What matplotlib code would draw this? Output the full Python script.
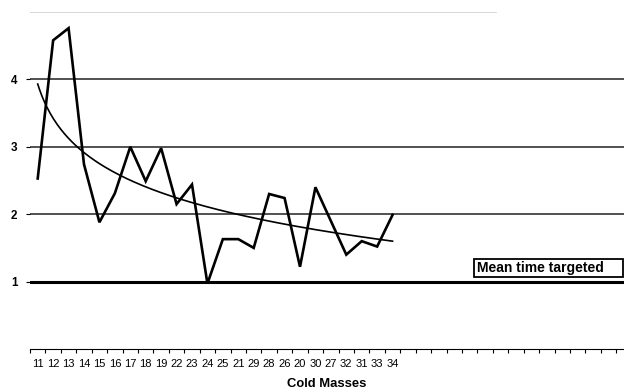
'''cold masses line chart with log trend'''
import numpy as np
import matplotlib
matplotlib.use('Agg')
import matplotlib.pyplot as plt
from matplotlib.patches import Rectangle

plt.rcParams['font.family'] = ['Liberation Sans', 'DejaVu Sans']

# data
masses = ['11', '12', '13', '14', '15', '16', '17', '18', '19', '22', '23', '24',
          '25', '21', '29', '28', '26', '20', '30', '27', '32', '31', '33', '34']
times = [2.53, 4.58, 4.76, 2.74, 1.88, 2.31, 3.00, 2.49, 2.98, 2.15, 2.44, 0.97,
         1.63, 1.63, 1.50, 2.30, 2.24, 1.22, 2.40, 1.90, 1.40, 1.60, 1.52, 1.99]
target = 1.0
n_slots = 38  # empty category slots continue past the last mass

xpos = np.arange(len(masses))

# logarithmic trend, like the spreadsheet one
n = np.arange(1, len(times) + 1)
b, a = np.polyfit(np.log(n), times, 1)
n_fine = np.linspace(1, len(times), 200)
trend = a + b * np.log(n_fine)

fig = plt.figure(figsize=(6.24, 3.9), dpi=100)
ax = fig.add_axes([30 / 624, 41 / 390, 594 / 624, 337 / 390])

# grid lines
for v in [2, 3, 4]:
    ax.axhline(v, color='#222222', lw=1.1, zorder=1)
ax.axhline(5, xmax=0.785, color='#d0d0d0', lw=1.2, zorder=1)
ax.axhline(target, color='black', lw=2.2, zorder=2)

ax.plot(xpos, times, color='black', lw=1.9, zorder=4, solid_joinstyle='miter')
ax.plot(n_fine - 1, trend, color='black', lw=1.2, zorder=3)

ax.set_xlim(-0.5, n_slots)
ax.set_ylim(0, 5)

# x axis: tick marks between categories, labels at centers
ax.set_xticks(xpos)
ax.set_xticklabels(masses, fontsize=8)
ax.set_xticks(np.arange(-0.5, n_slots, 1), minor=True)
ax.tick_params(axis='x', which='major', length=0, pad=7)
ax.tick_params(axis='x', which='minor', length=3, width=0.8, direction='out')

ax.set_yticks([1, 2, 3, 4])
ax.set_yticklabels(['1', '2', '3', '4'], fontsize=8.4, fontweight='bold')
ax.tick_params(axis='y', length=3, width=0.8, pad=6)

for s in ['left', 'right', 'top']:
    ax.spines[s].set_visible(False)
ax.spines['bottom'].set_linewidth(0.8)

ax.set_xlabel('Cold Masses', fontsize=9.4, fontweight='bold', labelpad=7)

# legend-like label box
fig.patches.append(Rectangle((474 / 624, 113 / 390), 149 / 624, 18 / 390,
                             transform=fig.transFigure, facecolor='white',
                             edgecolor='black', lw=1.3, zorder=5))
fig.text(477 / 624, 122 / 390, 'Mean time targeted', fontsize=10,
         fontweight='bold', ha='left', va='center', zorder=6)

fig.savefig('out.png', dpi=100)
